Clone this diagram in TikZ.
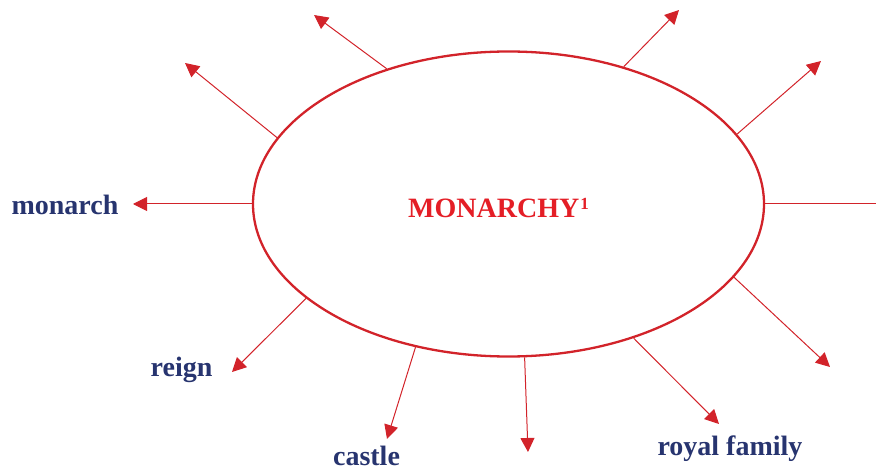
\documentclass[tikz,border=0pt]{standalone}
\usepackage{fontspec}
\setmainfont{Liberation Serif}
\usetikzlibrary{arrows.meta,shapes.geometric}
\definecolor{linered}{HTML}{D2232A}
\definecolor{textred}{HTML}{E41E26}
\definecolor{wordblue}{HTML}{27346F}
\tikzset{
  bigoval/.style={ellipse, draw=linered, line width=2.3pt, inner sep=0pt,
    minimum width=511pt, minimum height=305pt},
  title/.style={font=\fontsize{28}{30}\selectfont\bfseries, text=textred, inner sep=0pt, anchor=base west},
  ray/.style={draw=linered, line width=1pt, -{Triangle[length=14pt,width=14pt]}},
  plainray/.style={draw=linered, line width=1pt},
  word/.style={font=\fontsize{28}{30}\selectfont\bfseries, text=wordblue, inner sep=0pt, anchor=base}
}
\begin{document}
\begin{tikzpicture}[x=1pt,y=-1pt]
\useasboundingbox (0,0) rectangle (876,470);
\node[bigoval] (m) at (508.5,204) {};
\node[title] (t) at (408,218) {MONARCHY\kern1pt\raisebox{8pt}{\fontsize{17}{17}\selectfont 1}};
% end points
\coordinate (e1) at (133,204);
\coordinate (e2) at (876,204);
\coordinate (e3) at (185,63);
\coordinate (e4) at (314,15);
\coordinate (e5) at (679,10);
\coordinate (e6) at (821,61);
\coordinate (e7) at (830,367);
\coordinate (e8) at (719,424);
\coordinate (e9) at (528,452);
\coordinate (e10) at (387,439);
\coordinate (e11) at (232,372);
\draw[ray] (m.180) -- (e1);
\draw[plainray] (m.0) -- (e2);
\draw[ray] (m.164.1) -- (e3);
\draw[ray] (m.132) -- (e4);
\draw[ray] (m.50.85) -- (e5);
\draw[ray] (m.17.7) -- (e6);
\draw[ray] (m.-18.4) -- (e7);
\draw[ray] (m.-47.8) -- (e8);
\draw[ray] (m.-84.9) -- (e9);
\draw[ray] (m.-123.4) -- (e10);
\draw[ray] (m.-155.2) -- (e11);
% labels
\node[word] (w1) at (65,215) {monarch};
\node[word] (w2) at (181.5,377) {reign};
\node[word] (w3) at (366.5,465) {castle};
\node[word] (w4) at (730,455) {royal family};
\end{tikzpicture}
\end{document}
